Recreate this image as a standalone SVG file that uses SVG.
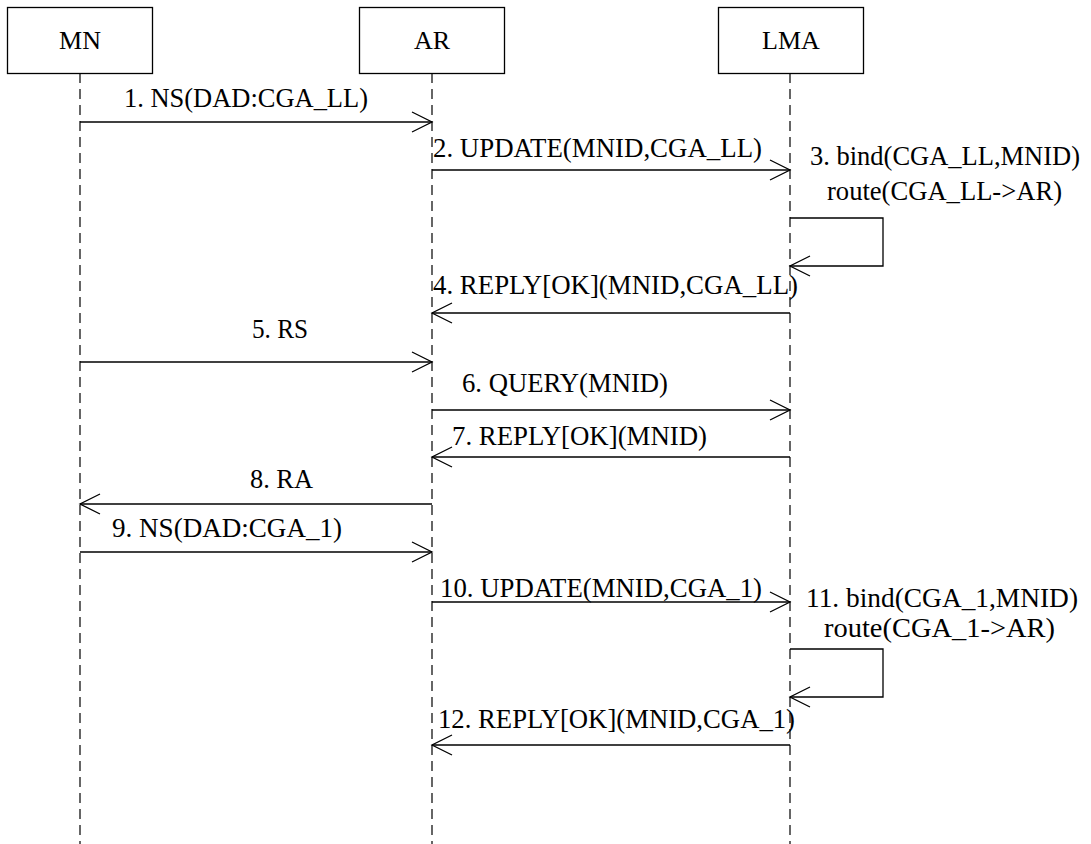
<svg xmlns="http://www.w3.org/2000/svg" width="1091" height="844" viewBox="0 0 1091 844">
<defs>
<marker id="open" markerUnits="userSpaceOnUse" markerWidth="24" markerHeight="24" viewBox="-22 -12 24 24" refX="0" refY="0" orient="auto">
<path d="M-20,-10 L0,0 L-20,10" fill="none" stroke="#000" stroke-width="1.3"/>
</marker>
<style>
.box{fill:#fff;stroke:#000;stroke-width:1.3}
.life{stroke:#000;stroke-width:1.2;stroke-dasharray:10,6;fill:none}
.msg{stroke:#000;stroke-width:1.3;fill:none;marker-end:url(#open)}
.t{font-family:"Liberation Serif","Times New Roman",serif;font-size:28px;fill:#000}
.s{font-size:27px}
.h{font-family:"Liberation Serif","Times New Roman",serif;font-size:26px;fill:#000;text-anchor:middle}
</style>
</defs>
<rect width="1091" height="844" fill="#fff"/>
<g id="lifelines">
<line class="life" x1="80" y1="73" x2="80" y2="844"/>
<line class="life" x1="432" y1="73" x2="432" y2="844"/>
<line class="life" x1="790" y1="73" x2="790" y2="844"/>
</g>
<g id="node-MN">
<rect class="box" x="7.5" y="7.5" width="145" height="66"/>
<text class="h" x="80" y="49">MN</text>
</g>
<g id="node-AR">
<rect class="box" x="359.5" y="7.5" width="145" height="66"/>
<text class="h" x="432" y="49">AR</text>
</g>
<g id="node-LMA">
<rect class="box" x="718.5" y="7.5" width="145" height="66"/>
<text class="h" x="791" y="49">LMA</text>
</g>
<g id="connectors">
<line class="msg" x1="80" y1="122" x2="432" y2="122"/>
<line class="msg" x1="432" y1="170" x2="790" y2="170"/>
<polyline class="msg" points="790,218 883,218 883,266 790,266"/>
<line class="msg" x1="790" y1="313" x2="432" y2="313"/>
<line class="msg" x1="80" y1="362" x2="432" y2="362"/>
<line class="msg" x1="432" y1="410" x2="790" y2="410"/>
<line class="msg" x1="790" y1="457" x2="432" y2="457"/>
<line class="msg" x1="432" y1="504" x2="80" y2="504"/>
<line class="msg" x1="80" y1="552" x2="432" y2="552"/>
<line class="msg" x1="432" y1="602" x2="790" y2="602"/>
<polyline class="msg" points="790,649 883,649 883,697 790,697"/>
<line class="msg" x1="790" y1="745" x2="432" y2="745"/>
</g>
<g id="labels">
<text class="t" x="124" y="107" textLength="244" lengthAdjust="spacingAndGlyphs">1. NS(DAD:CGA_LL)</text>
<text class="t" x="433" y="157" textLength="329" lengthAdjust="spacingAndGlyphs">2. UPDATE(MNID,CGA_LL)</text>
<text class="t s" x="810" y="165" textLength="270" lengthAdjust="spacingAndGlyphs">3. bind(CGA_LL,MNID)</text>
<text class="t s" x="827" y="200" textLength="235" lengthAdjust="spacingAndGlyphs">route(CGA_LL-&gt;AR)</text>
<text class="t" x="433" y="294" textLength="365" lengthAdjust="spacingAndGlyphs">4. REPLY[OK](MNID,CGA_LL)</text>
<text class="t" x="252" y="338" textLength="56" lengthAdjust="spacingAndGlyphs">5. RS</text>
<text class="t" x="462" y="392" textLength="206" lengthAdjust="spacingAndGlyphs">6. QUERY(MNID)</text>
<text class="t" x="452" y="445" textLength="255" lengthAdjust="spacingAndGlyphs">7. REPLY[OK](MNID)</text>
<text class="t" x="250" y="488" textLength="63" lengthAdjust="spacingAndGlyphs">8. RA</text>
<text class="t" x="112" y="537" textLength="230" lengthAdjust="spacingAndGlyphs">9. NS(DAD:CGA_1)</text>
<text class="t" x="440" y="597" textLength="322" lengthAdjust="spacingAndGlyphs">10. UPDATE(MNID,CGA_1)</text>
<text class="t" x="806" y="607" textLength="272" lengthAdjust="spacingAndGlyphs">11. bind(CGA_1,MNID)</text>
<text class="t" x="824" y="637" textLength="231" lengthAdjust="spacingAndGlyphs">route(CGA_1-&gt;AR)</text>
<text class="t" x="438" y="728" textLength="357" lengthAdjust="spacingAndGlyphs">12. REPLY[OK](MNID,CGA_1)</text>
</g>
</svg>
